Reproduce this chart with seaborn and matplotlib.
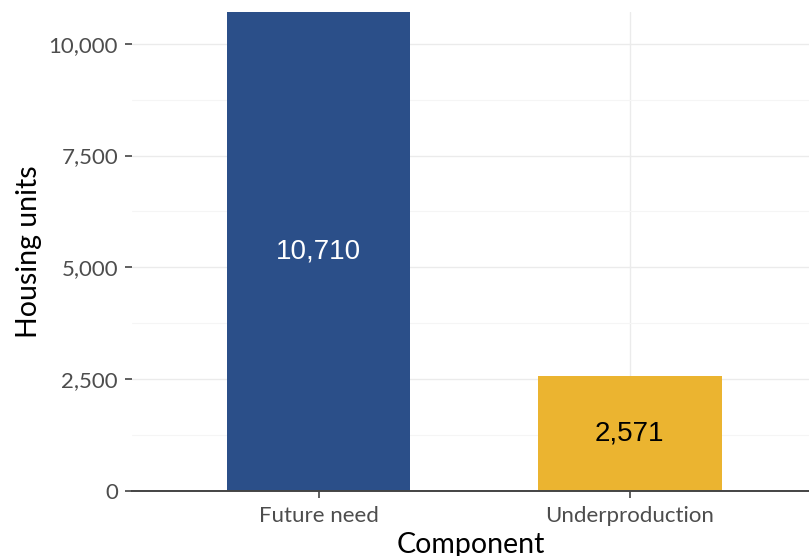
import pandas as pd
import matplotlib
matplotlib.use("Agg")
import matplotlib.pyplot as plt
import seaborn as sns
from matplotlib.ticker import FuncFormatter, AutoMinorLocator

# --- data ---
components = ["Future need", "Underproduction"]
housing_units = [10710, 2571]
bar_colors = ["#2B4F89", "#EBB430"]
label_colors = ["white", "black"]
y_ticks = [0, 2500, 5000, 7500, 10000]

df = pd.DataFrame({"Component": components, "Housing units": housing_units})

sns.set_theme(style="whitegrid")
plt.rcParams["font.family"] = ["Lato", "DejaVu Sans"]

fig = plt.figure(figsize=(8.09, 5.56), dpi=100)
ax = fig.add_axes([132 / 809, 65 / 556, 1 - 132 / 809, (491 - 12) / 556])

sns.barplot(
    data=df, x="Component", y="Housing units", hue="Component",
    palette=bar_colors, saturation=1, width=0.59, legend=False, ax=ax,
    edgecolor="none", linewidth=0,
)

# value labels in the middle of each bar
for container, col in zip(ax.containers, label_colors):
    labels = ax.bar_label(container, fmt="{:,.0f}", label_type="center",
                          fontsize=20, family=["Liberation Sans", "DejaVu Sans"])
    for t in labels:
        t.set_color(col)

ax.set_xlim(-0.6, 1.576)
ax.set_ylim(0, max(housing_units))
ax.set_yticks(y_ticks)
ax.yaxis.set_minor_locator(AutoMinorLocator(2))
ax.yaxis.set_major_formatter(FuncFormatter(lambda v, p: f"{v:,.0f}"))

ax.grid(True, which="major", color="#EBEBEB", linewidth=1.0)
ax.grid(True, which="minor", axis="y", color="#F5F5F5", linewidth=0.8)
ax.set_axisbelow(True)

for s in ["top", "right", "left"]:
    ax.spines[s].set_visible(False)
ax.spines["bottom"].set_color("#444444")
ax.spines["bottom"].set_linewidth(1.4)

ax.tick_params(axis="both", which="major", length=5, width=1.2, color="#444444",
               labelsize=16, labelcolor="#4D4D4D", left=True, bottom=True)
ax.tick_params(axis="y", which="major", pad=5)
ax.tick_params(axis="x", which="major", pad=6)
ax.tick_params(axis="y", which="minor", length=0)

ax.set_xlabel("Component", fontsize=20.5, color="black", labelpad=4)
ax.set_ylabel("Housing units", fontsize=20.5, color="black", labelpad=5)

fig.savefig("out.png", dpi=100)
